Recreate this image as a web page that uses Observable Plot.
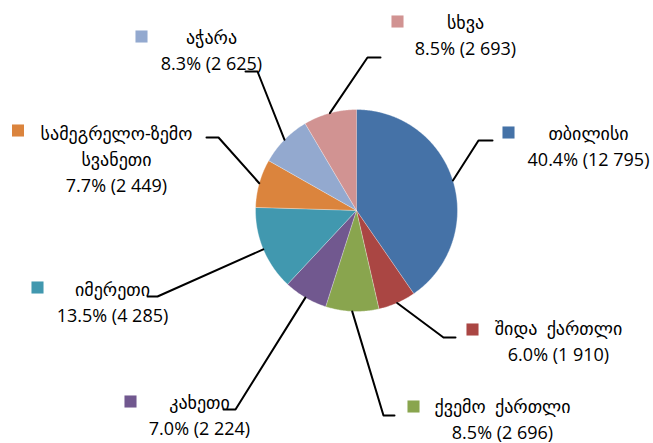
<!DOCTYPE html>
<html>
<head>
<meta charset="utf-8">
<script src="https://cdn.jsdelivr.net/npm/d3@7"></script>
<script src="https://cdn.jsdelivr.net/npm/@observablehq/plot@0.6"></script>
<style>
  html, body { margin: 0; padding: 0; background: #fff; }
  #chart { width: 653px; height: 443px; overflow: hidden; }
</style>
</head>
<body>
<div id="chart"></div>
<script>
// ---- data ----
const names = ["თბილისი", "შიდა ქართლი", "ქვემო ქართლი", "კახეთი", "იმერეთი", "სამეგრელო-ზემო სვანეთი", "აჭარა", "სხვა"];
const values = [12795, 1910, 2696, 2224, 4285, 2449, 2625, 2693];
const nameLines = [["თბილისი"], ["შიდა  ქართლი"], ["ქვემო  ქართლი"], ["კახეთი"], ["იმერეთი"], ["სამეგრელო-ზემო", "სვანეთი"], ["აჭარა"], ["სხვა"]];

// ---- styles ----
const colors = ["#4572A7", "#AA4643", "#89A54E", "#71588F", "#4198AF", "#DB843D", "#93A9CF", "#D19392"];
const font = "'Open Sans', 'DejaVu Sans', sans-serif";
const fontSize = 18;
const lineH = 26;

// ---- layout (plot units == px) ----
const W = 653, H = 443;
const pie = {cx: 356, cy: 210, r: 101};
const layout = [
  {sq: [508, 132], tx: 588, ty: 134, elbow: [478, 140], end: [492, 140]},
  {sq: [472, 329], tx: 558, ty: 329, elbow: [443, 337], end: [455, 337]},
  {sq: [413, 406], tx: 502, ty: 407, elbow: [383, 415], end: [394, 415]},
  {sq: [130, 401], tx: 199, ty: 403, elbow: [235, 409], end: [223, 409]},
  {sq: [37, 287],  tx: 112, ty: 290, elbow: [157, 296], end: [147, 296]},
  {sq: [17.5, 130], tx: 116, ty: 134, elbow: [218, 137], end: [206, 137]},
  {sq: [141, 36],  tx: 211, ty: 38,  elbow: [257, 71],  end: [245, 71]},
  {sq: [397, 21],  tx: 465, ty: 23,  elbow: [367, 57],  end: [380, 57]}
];

// ---- derived ----
const total = d3.sum(values);
const fmtInt = d3.formatLocale({decimal: ".", thousands: " ", grouping: [3], currency: ["", ""]}).format(",");
const arcs = d3.pie().sort(null).value(d => d)(values);
const pt = (a, rr) => ({x: pie.cx + rr * Math.sin(a), y: pie.cy - rr * Math.cos(a)});

const slicePts = [];
arcs.forEach((a, i) => {
  slicePts.push({name: names[i], ...pt(0, 0)});
  const n = Math.max(2, Math.ceil((a.endAngle - a.startAngle) / (Math.PI / 360)));
  for (let k = 0; k <= n; k++) {
    const ang = a.startAngle + (a.endAngle - a.startAngle) * k / n;
    slicePts.push({name: names[i], ...pt(ang, pie.r)});
  }
});

const leaderPts = [];
arcs.forEach((a, i) => {
  const m = pt((a.startAngle + a.endAngle) / 2, pie.r);
  const L = layout[i];
  leaderPts.push({name: names[i], x: m.x, y: m.y});
  leaderPts.push({name: names[i], x: L.elbow[0], y: L.elbow[1]});
  leaderPts.push({name: names[i], x: L.end[0], y: L.end[1]});
});

const textRows = [];
const squares = [];
names.forEach((nm, i) => {
  const L = layout[i];
  squares.push({name: nm, x: L.sq[0], y: L.sq[1]});
  nameLines[i].forEach((t, j) => textRows.push({text: t, x: L.tx, y: L.ty + j * lineH}));
  const pct = (values[i] / total * 100).toFixed(1) + "% (" + fmtInt(values[i]) + ")";
  textRows.push({text: pct, x: L.tx, y: L.ty + nameLines[i].length * lineH});
});

const chart = Plot.plot({
  width: W,
  height: H,
  margin: 0,
  x: {domain: [0, W], range: [0, W], axis: null},
  y: {domain: [0, H], range: [0, H], axis: null},
  color: {domain: names, range: colors},
  style: {background: "#fff", fontFamily: font},
  marks: [
    Plot.line(slicePts, {x: "x", y: "y", z: "name", fill: "name", stroke: "#fff", strokeWidth: 0.6, strokeOpacity: 0.6, curve: "linear"}),
    Plot.line(leaderPts, {x: "x", y: "y", z: "name", stroke: "#000", strokeWidth: 2, curve: "linear"}),
    Plot.dot(squares, {x: "x", y: "y", fill: "name", symbol: "square", r: 6.8, stroke: null}),
    Plot.text(textRows, {x: "x", y: "y", text: "text", fontSize, fontFamily: font, fill: "#000", textAnchor: "middle", lineAnchor: "middle"})
  ]
});
document.getElementById("chart").appendChild(chart);
</script>
</body>
</html>
